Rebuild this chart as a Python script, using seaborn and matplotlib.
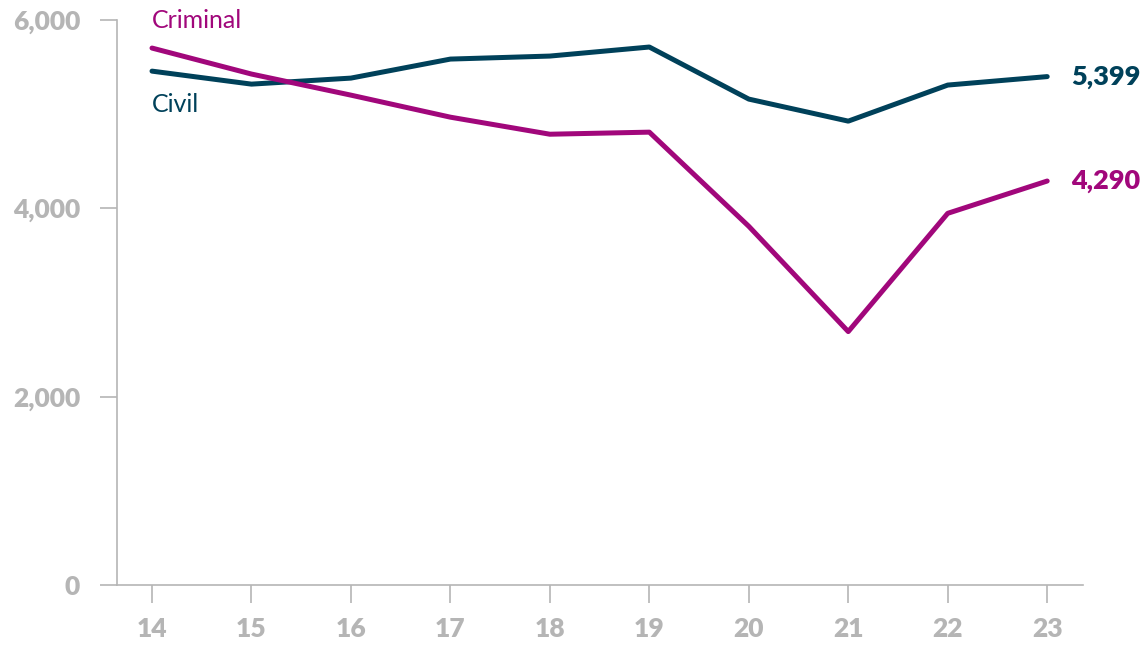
import matplotlib
matplotlib.use("Agg")
import matplotlib.pyplot as plt
import seaborn as sns
import pandas as pd

years = [14, 15, 16, 17, 18, 19, 20, 21, 22, 23]
civil = [5457, 5319, 5383, 5585, 5617, 5713, 5160, 4926, 5309, 5399]
criminal = [5702, 5426, 5202, 4968, 4787, 4809, 3809, 2691, 3947, 4290]
series_names = ["Civil", "Criminal"]
yticks = [0, 2000, 4000, 6000]

colors = {"Civil": "#00415A", "Criminal": "#A1077B"}
grey = "#B5B5B5"

df = pd.DataFrame({
    "year": years * 2,
    "cases": civil + criminal,
    "type": ["Civil"] * len(years) + ["Criminal"] * len(years),
})

sns.set_theme(style="white")
plt.rcParams["font.family"] = ["Lato", "DejaVu Sans"]

fig = plt.figure(figsize=(11.46, 6.47), dpi=100)
ax = fig.add_axes([117 / 1146, 1 - 585 / 647, (1083 - 117) / 1146, (585 - 20) / 647])

sns.lineplot(data=df, x="year", y="cases", hue="type", palette=colors,
             linewidth=3.6, legend=False, ax=ax)

ax.set_xlim(13.648, 23.36)
ax.set_ylim(0, 6000)
ax.set_xticks(years)
ax.set_xticklabels([str(y) for y in years])
ax.set_yticks(yticks)
ax.set_yticklabels([f"{v:,}" for v in yticks])
ax.set_xlabel("")
ax.set_ylabel("")

for side in ["top", "right"]:
    ax.spines[side].set_visible(False)
for side in ["left", "bottom"]:
    ax.spines[side].set_color(grey)
    ax.spines[side].set_linewidth(1.2)

ax.tick_params(axis="y", direction="out", length=12.5, width=1.2, color=grey,
               pad=14, labelsize=19, labelcolor=grey, left=True)
ax.tick_params(axis="x", direction="out", length=13, width=1.2, color=grey,
               pad=10, labelsize=19, labelcolor=grey, bottom=True)
for lab in ax.get_xticklabels() + ax.get_yticklabels():
    lab.set_fontweight("heavy")

# series names next to the first year
ax.text(years[0], 6000, "Criminal", color=colors["Criminal"], fontsize=18,
        ha="left", va="center")
ax.text(years[0], 5100, "Civil", color=colors["Civil"], fontsize=18,
        ha="left", va="center")

# final values at the right end of each line
for name, vals in zip(series_names, [civil, criminal]):
    ax.annotate(f"{vals[-1]:,}", xy=(years[-1], vals[-1]), xytext=(17, 0),
                textcoords="offset points", color=colors[name], fontsize=19.5,
                fontweight="heavy", ha="left", va="center", annotation_clip=False)

fig.savefig("out.png", dpi=100)
